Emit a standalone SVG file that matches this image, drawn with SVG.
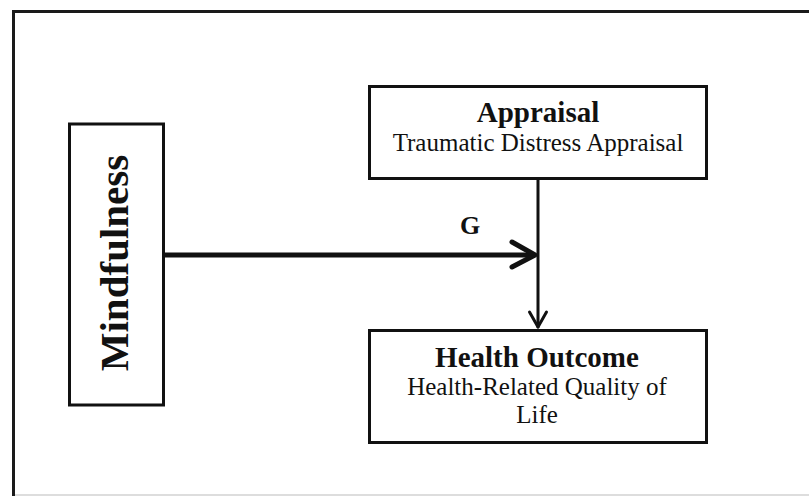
<svg xmlns="http://www.w3.org/2000/svg" width="809" height="496" viewBox="0 0 809 496">
<defs>
<style>
.box{fill:#fff;stroke:#111;stroke-width:3}
.t{font-family:"Liberation Serif","Times New Roman",serif;fill:#111;text-anchor:middle}
.b{font-weight:bold}
.conn{fill:none;stroke:#111;stroke-linecap:round;stroke-linejoin:round}
</style>
</defs>
<rect width="809" height="496" fill="#fff"/>
<g id="frame">
<path d="M13.5,496 V11.5 H809" fill="none" stroke="#1a1a1a" stroke-width="3"/>
<line x1="15" y1="495" x2="809" y2="495" stroke="#ddd" stroke-width="2"/>
</g>
<g id="connectors">
<line class="conn" x1="164" y1="255" x2="533" y2="255" stroke-width="5"/>
<polyline class="conn" points="512,242 535,255 512,267" stroke-width="5"/>
<line class="conn" x1="538" y1="180" x2="538" y2="327" stroke-width="3"/>
<polyline class="conn" points="529.5,312 538,327 546.5,312" stroke-width="3"/>
<text class="t b" x="470" y="234" font-size="26">G</text>
</g>
<g id="mindfulness">
<rect class="box" x="69.5" y="124" width="94" height="281"/>
<text class="t b" font-size="41" transform="translate(128,263) rotate(-90)">Mindfulness</text>
</g>
<g id="appraisal">
<rect class="box" x="369.5" y="86.5" width="337" height="92"/>
<text class="t b" x="538" y="122" font-size="29">Appraisal</text>
<text class="t" x="538" y="151" font-size="25">Traumatic Distress Appraisal</text>
</g>
<g id="health">
<rect class="box" x="369.5" y="330.5" width="337" height="112"/>
<text class="t b" x="537" y="367" font-size="29">Health Outcome</text>
<text class="t" x="537" y="395" font-size="25">Health-Related Quality of</text>
<text class="t" x="537" y="423" font-size="25">Life</text>
</g>
</svg>
